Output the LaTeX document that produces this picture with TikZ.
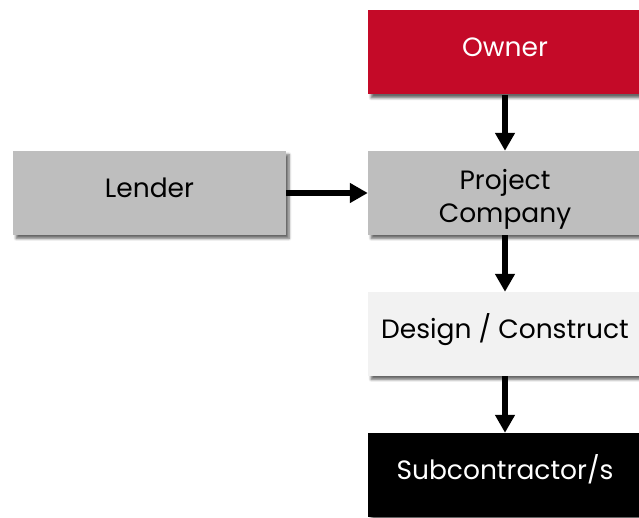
\documentclass[tikz,border=0pt]{standalone}
\usepackage{fontspec}
\setmainfont{Poppins}
\usetikzlibrary{arrows.meta,shadows.blur}
\definecolor{ownerred}{HTML}{C40A28}
\definecolor{midgray}{HTML}{BEBEBE}
\definecolor{palegray}{HTML}{F2F2F2}
\tikzset{
  box/.style={draw=none, minimum width=274pt, minimum height=84pt, inner sep=0pt,
    align=center, font=\fontsize{26.5}{33}\selectfont,
    text height=18pt, text depth=9pt,
    blur shadow={shadow xshift=3pt, shadow yshift=-3.5pt, shadow blur radius=2.5pt,
      shadow blur steps=6, shadow opacity=60}},
  twoline/.style={text height=60pt, text depth=0pt},
  flow/.style={line width=6pt, -{Triangle[length=18pt,width=19pt]}}
}
\begin{document}
\begin{tikzpicture}[x=1pt,y=1pt]
  \useasboundingbox (0,0) rectangle (639,517);
  \clip (0,0) rectangle (639,517);
  % boxes (y measured upward from the bottom edge)
  \node[box, fill=ownerred, text=white] (owner) at (505,464.5) {Owner};
  \node[box, twoline, fill=midgray] (pc) at (505,324) {Project\\Company};
  \node[box, fill=palegray] (dc) at (505,183) {Design / Construct};
  \node[box, fill=black, text=white] (sub) at (505,42) {Subcontractor/s};
  \node[box, fill=midgray, minimum width=273pt] (lender) at (149.5,324) {Lender};
  % connectors
  \draw[flow] (owner.south) -- (pc.north);
  \draw[flow] (pc.south) -- (dc.north);
  \draw[flow] (dc.south) -- (sub.north);
  \draw[flow] (lender.east) -- (pc.west);
\end{tikzpicture}
\end{document}
